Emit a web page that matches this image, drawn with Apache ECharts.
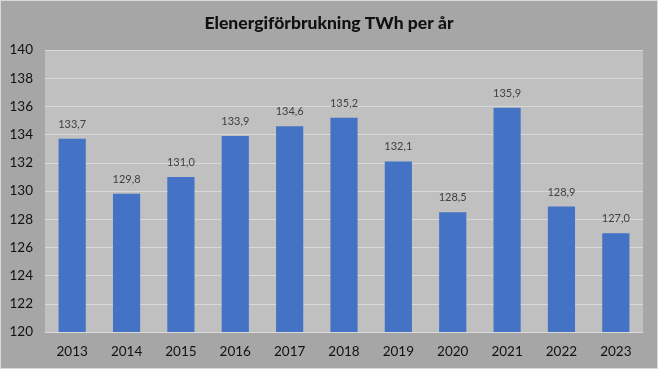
<!DOCTYPE html>
<html><head><meta charset="utf-8">
<script src="https://cdn.jsdelivr.net/npm/echarts@6/dist/echarts.min.js"></script>
<style>html,body{margin:0;padding:0;background:#a6a6a6}#c{width:658px;height:369px;box-sizing:border-box;border:1px solid #d9d9d9}</style>
</head><body><div id="c"></div>
<script>
const categories = ['2013','2014','2015','2016','2017','2018','2019','2020','2021','2022','2023'];
const values = [133.7,129.8,131.0,133.9,134.6,135.2,132.1,128.5,135.9,128.9,127.0];
const title = 'Elenergiförbrukning TWh per år';
const chart = echarts.init(document.getElementById('c'));
chart.setOption({
  backgroundColor: '#a6a6a6',
  animation: false,
  title: {text: title, left: 'center', top: 8, textStyle: {fontFamily: 'Lato', fontWeight: 900, fontSize: 17.5, color: '#111'}},
  grid: {left: 44, right: 14, top: 49, bottom: 36, show: true, backgroundColor: '#c0c0c0', borderWidth: 0},
  xAxis: {type: 'category', data: categories, axisLine: {show: true, lineStyle: {color: '#d9d9d9'}}, axisTick: {show: false},
    axisLabel: {fontFamily: 'Lato', fontSize: 13.5, color: '#111', margin: 13}},
  yAxis: {type: 'value', min: 120, max: 140, interval: 2, axisLine: {show: false}, axisTick: {show: false},
    splitLine: {lineStyle: {color: '#d9d9d9', width: 1}},
    axisLabel: {fontFamily: 'Lato', fontSize: 13.5, color: '#111', margin: 12}},
  series: [{type: 'bar', data: values, barWidth: '50%', itemStyle: {color: '#4472c4'},
    label: {show: true, position: 'top', distance: 9, fontFamily: 'Lato', fontSize: 11, color: '#404040',
      formatter: p => p.value.toFixed(1).replace('.', ',')}}]
});
</script></body></html>
